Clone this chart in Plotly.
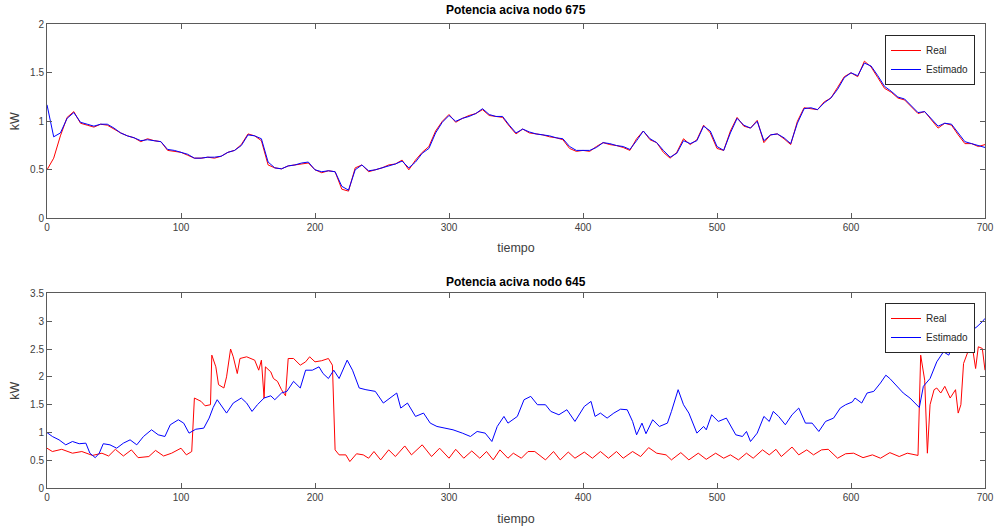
import plotly.graph_objects as go

# ---- Top subplot: Potencia aciva nodo 675 ----
t1 = list(range(0, 705, 5))
real_675 = [0.50, 0.62, 0.85, 1.04, 1.10, 0.98, 0.96, 0.94, 0.97, 0.96,
            0.92, 0.88, 0.85, 0.83, 0.79, 0.82, 0.80, 0.79, 0.70, 0.69,
            0.68, 0.65, 0.62, 0.62, 0.63, 0.62, 0.64, 0.68, 0.70, 0.76,
            0.87, 0.85, 0.80, 0.55, 0.52, 0.51, 0.54, 0.55, 0.56, 0.57,
            0.50, 0.47, 0.49, 0.48, 0.30, 0.28, 0.52, 0.55, 0.48, 0.50,
            0.52, 0.55, 0.56, 0.60, 0.50, 0.60, 0.68, 0.74, 0.90, 1.00,
            1.07, 0.99, 1.03, 1.06, 1.08, 1.12, 1.06, 1.05, 1.04, 0.95,
            0.87, 0.92, 0.88, 0.87, 0.86, 0.84, 0.83, 0.81, 0.72, 0.69,
            0.70, 0.69, 0.74, 0.78, 0.76, 0.75, 0.73, 0.70, 0.82, 0.90,
            0.81, 0.78, 0.68, 0.62, 0.68, 0.82, 0.76, 0.81, 0.96, 0.88,
            0.72, 0.70, 0.90, 1.04, 0.95, 0.93, 1.01, 0.78, 0.86, 0.87,
            0.82, 0.76, 1.00, 1.14, 1.13, 1.12, 1.20, 1.24, 1.35, 1.46,
            1.50, 1.46, 1.62, 1.56, 1.45, 1.34, 1.30, 1.24, 1.22, 1.15,
            1.08, 1.10, 1.02, 0.93, 0.98, 0.96, 0.86, 0.77, 0.77, 0.74,
            0.76]
est_675 = [1.17, 0.84, 0.88, 1.03, 1.09, 0.99, 0.97, 0.95, 0.97, 0.97,
           0.93, 0.88, 0.85, 0.83, 0.80, 0.81, 0.80, 0.79, 0.71, 0.70,
           0.68, 0.66, 0.62, 0.62, 0.63, 0.63, 0.64, 0.68, 0.70, 0.75,
           0.86, 0.85, 0.82, 0.58, 0.52, 0.51, 0.54, 0.55, 0.57, 0.58,
           0.50, 0.48, 0.49, 0.48, 0.33, 0.29, 0.50, 0.55, 0.49, 0.50,
           0.52, 0.54, 0.56, 0.59, 0.52, 0.58, 0.67, 0.72, 0.88, 0.99,
           1.06, 1.00, 1.03, 1.05, 1.08, 1.13, 1.07, 1.05, 1.05, 0.96,
           0.88, 0.92, 0.89, 0.87, 0.86, 0.85, 0.83, 0.82, 0.74, 0.70,
           0.70, 0.70, 0.73, 0.78, 0.77, 0.75, 0.74, 0.71, 0.80, 0.90,
           0.82, 0.78, 0.70, 0.63, 0.67, 0.80, 0.77, 0.80, 0.95, 0.90,
           0.74, 0.70, 0.88, 1.03, 0.96, 0.93, 1.00, 0.80, 0.86, 0.87,
           0.83, 0.77, 0.98, 1.13, 1.14, 1.12, 1.19, 1.24, 1.33, 1.45,
           1.50, 1.47, 1.60, 1.57, 1.47, 1.36, 1.31, 1.25, 1.23, 1.16,
           1.09, 1.10, 1.03, 0.95, 0.98, 0.97, 0.88, 0.79, 0.77, 0.75,
           0.73]

# ---- Bottom subplot: Potencia aciva nodo 645 ----
t2_real = [0, 4, 11, 19, 26, 34, 41, 46, 51, 57, 63, 68, 76, 81, 87, 93, 100, 104, 108,
           110, 115, 118, 122, 123, 126, 128, 132, 134, 137, 139, 142, 144, 149, 155, 158,
           160, 162, 163, 167, 169, 172, 175, 178, 180, 184, 189, 193, 196, 200, 205, 210,
           213, 215, 218, 223, 226, 231, 236, 240, 244, 249, 255, 260, 267, 272, 280, 287,
           293, 300, 305, 311, 317, 323, 328, 333, 338, 344, 348, 354, 359, 364, 372, 378,
           383, 389, 394, 401, 407, 413, 419, 425, 430, 437, 443, 449, 455, 462, 466, 473,
           479, 486, 492, 499, 505, 510, 516, 522, 527, 534, 539, 544, 548, 556, 561, 567,
           572, 578, 583, 590, 596, 602, 609, 616, 622, 629, 636, 642, 650, 652, 655, 657,
           659, 662, 664, 667, 670, 674, 678, 680, 682, 684, 687, 690, 693, 695, 698, 700]
real_645 = [0.72, 0.66, 0.70, 0.63, 0.66, 0.59, 0.63, 0.58, 0.70, 0.58, 0.69, 0.55, 0.57, 0.68, 0.58, 0.63, 0.72, 0.60, 0.66,
            1.62, 1.56, 1.48, 1.50, 2.39, 2.18, 1.86, 1.80, 2.00, 2.50, 2.36, 2.06, 2.33, 2.36, 2.30, 2.12,
            2.30, 1.62, 2.18, 2.09, 1.97, 1.92, 1.77, 1.66, 2.33, 2.33, 2.21, 2.27, 2.36, 2.27, 2.29, 2.33,
            2.21, 0.69, 0.60, 0.60, 0.48, 0.62, 0.60, 0.54, 0.66, 0.51, 0.69, 0.57, 0.76, 0.60, 0.78, 0.57,
            0.72, 0.54, 0.70, 0.54, 0.67, 0.54, 0.66, 0.51, 0.69, 0.54, 0.63, 0.54, 0.66, 0.66, 0.51, 0.66,
            0.51, 0.65, 0.54, 0.65, 0.54, 0.66, 0.54, 0.66, 0.54, 0.66, 0.57, 0.73, 0.63, 0.60, 0.51, 0.64,
            0.51, 0.63, 0.52, 0.63, 0.54, 0.60, 0.51, 0.63, 0.54, 0.69, 0.60, 0.70, 0.57, 0.74, 0.60, 0.69,
            0.60, 0.69, 0.70, 0.54, 0.62, 0.63, 0.55, 0.60, 0.54, 0.64, 0.57, 0.63, 0.59, 2.39, 1.94, 0.63,
            1.50, 1.77, 1.80, 1.71, 1.83, 1.62, 1.77, 1.35, 1.50, 2.24, 2.45, 2.63, 2.15, 2.54, 2.51, 2.12]

t2_est = [0, 4, 9, 14, 19, 24, 29, 32, 36, 39, 42, 47, 52, 57, 62, 67, 72, 78, 83, 88, 92, 98,
          102, 106, 111, 117, 121, 124, 127, 131, 134, 139, 145, 149, 153, 157, 162, 167, 170,
          175, 179, 184, 189, 193, 198, 203, 206, 210, 214, 218, 221, 224, 228, 233, 238, 245,
          251, 256, 261, 264, 269, 275, 281, 286, 291, 297, 303, 310, 316, 321, 327, 332, 336,
          341, 344, 351, 356, 361, 366, 372, 376, 382, 388, 394, 401, 406, 409, 413, 418, 423,
          428, 433, 437, 440, 444, 447, 452, 457, 463, 466, 471, 475, 479, 485, 490, 492, 496,
          501, 507, 514, 519, 522, 525, 530, 535, 539, 542, 546, 551, 556, 561, 566, 571, 576,
          581, 587, 592, 596, 601, 603, 608, 612, 617, 622, 626, 629, 634, 639, 644, 648, 651,
          654, 659, 664, 669, 673, 677, 682, 685, 689, 694, 698, 700]
est_645 = [1.00, 0.93, 0.87, 0.78, 0.84, 0.80, 0.81, 0.63, 0.55, 0.63, 0.80, 0.78, 0.72, 0.81, 0.87, 0.78, 0.93, 1.05, 0.96, 0.93, 1.14, 1.23,
           1.17, 0.99, 1.06, 1.08, 1.26, 1.45, 1.59, 1.44, 1.35, 1.53, 1.62, 1.53, 1.38, 1.50, 1.62, 1.66, 1.59,
           1.71, 1.74, 1.92, 1.80, 2.12, 2.12, 2.18, 2.06, 1.97, 2.12, 1.97, 2.12, 2.30, 2.12, 1.80, 1.77, 1.74,
           1.53, 1.62, 1.71, 1.44, 1.53, 1.29, 1.35, 1.17, 1.11, 1.08, 1.05, 0.99, 0.93, 1.02, 0.99, 0.84, 1.11,
           1.29, 1.17, 1.29, 1.59, 1.65, 1.50, 1.50, 1.38, 1.32, 1.41, 1.20, 1.47, 1.56, 1.29, 1.35, 1.26, 1.35,
           1.42, 1.41, 1.20, 0.96, 1.17, 0.98, 1.23, 1.11, 1.17, 1.38, 1.77, 1.50, 1.35, 0.99, 1.11, 1.05, 1.32,
           1.20, 1.26, 0.96, 0.93, 1.02, 0.84, 0.99, 1.29, 1.20, 1.38, 1.29, 1.14, 1.32, 1.44, 1.17, 1.17, 1.02,
           1.20, 1.26, 1.44, 1.50, 1.55, 1.62, 1.53, 1.71, 1.74, 1.89, 2.03, 1.97, 1.83, 1.71, 1.62, 1.53, 1.45,
           1.83, 1.97, 2.27, 2.45, 2.39, 2.66, 2.69, 2.66, 2.81, 2.90, 2.99, 3.05]

titles = ["Potencia aciva nodo 675", "Potencia aciva nodo 645"]
series_names = ["Real", "Estimado"]
x_ticks = list(range(0, 800, 100))
y1_ticks = [0, 0.5, 1, 1.5, 2]
y1_labels = ["0", "0.5", "1", "1.5", "2"]
y2_ticks = [0, 0.5, 1, 1.5, 2, 2.5, 3, 3.5]
y2_labels = ["0", "0.5", "1", "1.5", "2", "2.5", "3", "3.5"]

RED = "#ff0000"
BLUE = "#0000ff"
FONT = "Liberation Sans, Arial, sans-serif"
AXC = "#5a5a5a"
TXC = "#404040"

fig = go.Figure()
fig.add_trace(go.Scatter(x=t1, y=real_675, mode="lines", name=series_names[0],
                         line=dict(color=RED, width=1), xaxis="x", yaxis="y", legend="legend"))
fig.add_trace(go.Scatter(x=t1, y=est_675, mode="lines", name=series_names[1],
                         line=dict(color=BLUE, width=1), xaxis="x", yaxis="y", legend="legend"))
fig.add_trace(go.Scatter(x=t2_real, y=real_645, mode="lines", name=series_names[0],
                         line=dict(color=RED, width=1), xaxis="x2", yaxis="y2", legend="legend2"))
fig.add_trace(go.Scatter(x=t2_est, y=est_645, mode="lines", name=series_names[1],
                         line=dict(color=BLUE, width=1), xaxis="x2", yaxis="y2", legend="legend2"))

xdom = [47 / 994, 985 / 994]
common_x = dict(range=[0, 700], tickvals=x_ticks, ticks="inside", ticklen=5, tickcolor=AXC,
                showline=True, linecolor=AXC, linewidth=1, mirror="ticks", showgrid=False,
                zeroline=False, tickfont=dict(family=FONT, size=10, color=TXC), automargin=False,
                domain=xdom)
common_y = dict(ticks="inside", ticklen=5, tickcolor=AXC, showline=True, linecolor=AXC,
                linewidth=1, mirror="ticks", showgrid=False, zeroline=False,
                tickfont=dict(family=FONT, size=10, color=TXC), automargin=False)

fig.update_layout(
    width=994, height=527,
    margin=dict(l=0, r=0, t=0, b=0),
    paper_bgcolor="white", plot_bgcolor="white",
    showlegend=True,
    xaxis=dict(**common_x, anchor="y",
               title=dict(text="tiempo", font=dict(family=FONT, size=12.5, color=TXC), standoff=10)),
    yaxis=dict(**common_y, range=[0, 2], tickvals=y1_ticks, ticktext=y1_labels, anchor="x",
               domain=[1 - 218.3 / 527, 1 - 24.3 / 527],
               title=dict(text="kW", font=dict(family=FONT, size=12.5, color=TXC), standoff=7)),
    xaxis2=dict(**common_x, anchor="y2",
                title=dict(text="tiempo", font=dict(family=FONT, size=12.5, color=TXC), standoff=11)),
    yaxis2=dict(**common_y, range=[0, 3.5], tickvals=y2_ticks, ticktext=y2_labels, anchor="x2",
                domain=[1 - 488.3 / 527, 1 - 293.3 / 527],
                title=dict(text="kW", font=dict(family=FONT, size=12.5, color=TXC), standoff=7)),
    legend=dict(x=975 / 994, xanchor="right", y=1 - 35 / 527, yanchor="top",
                bgcolor="white", bordercolor="#262626", borderwidth=1,
                font=dict(family=FONT, size=10, color="#262626"), itemwidth=30,
                tracegroupgap=0),
    legend2=dict(x=975 / 994, xanchor="right", y=1 - 303 / 527, yanchor="top",
                 bgcolor="white", bordercolor="#262626", borderwidth=1,
                 font=dict(family=FONT, size=10, color="#262626"), itemwidth=30,
                 tracegroupgap=0),
    annotations=[
        dict(text="<b>" + titles[0] + "</b>", x=0.5 * (xdom[0] + xdom[1]), y=1 - 10 / 527,
             xref="paper", yref="paper", showarrow=False, xanchor="center", yanchor="middle",
             font=dict(family=FONT, size=12, color="black")),
        dict(text="<b>" + titles[1] + "</b>", x=0.5 * (xdom[0] + xdom[1]), y=1 - 282 / 527,
             xref="paper", yref="paper", showarrow=False, xanchor="center", yanchor="middle",
             font=dict(family=FONT, size=12, color="black")),
    ],
)

fig.write_html("out.html", config={"displayModeBar": False},
               post_script="document.body.style.margin='0';document.body.style.padding='0';")
